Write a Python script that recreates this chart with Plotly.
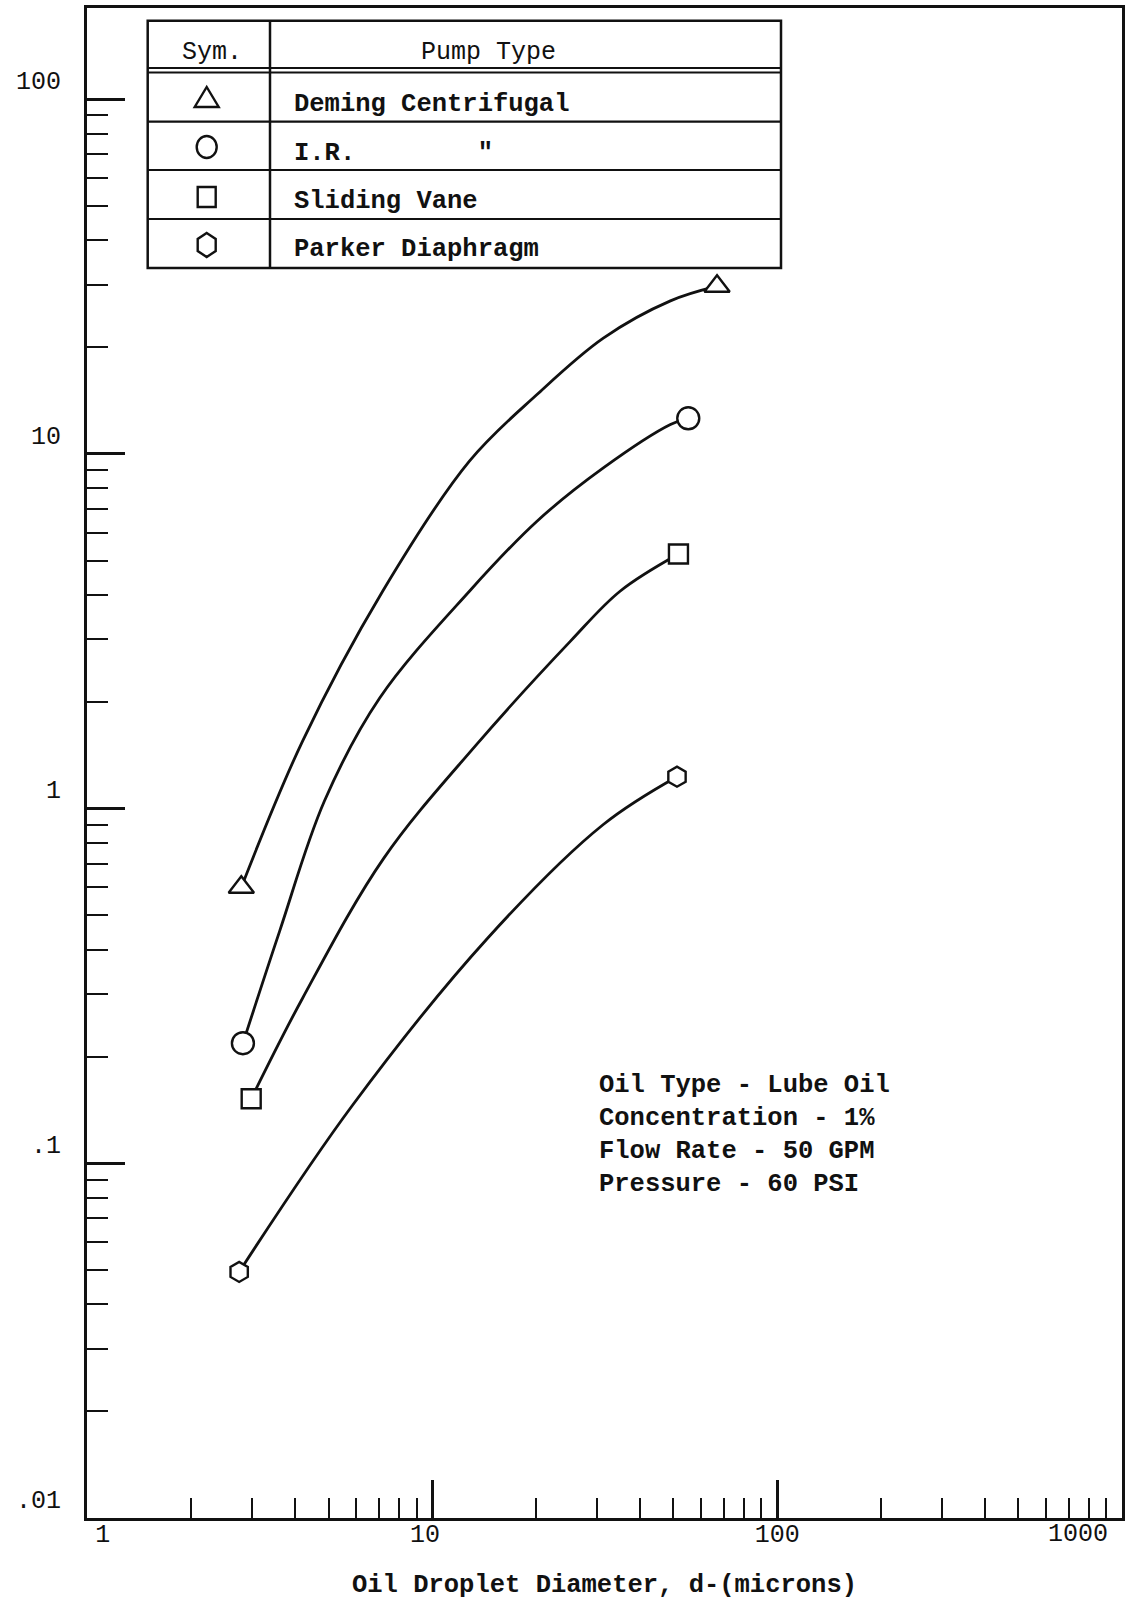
import math
import plotly.graph_objects as go

# ---- data ----
series_names = ["Deming Centrifugal", "I.R.", "Sliding Vane", "Parker Diaphragm"]

deming_x = [2.79, 4.20, 7.17, 12.8, 20.1, 31.3, 49.0, 66.9]
deming_y = [0.60, 1.55, 4.10, 9.54, 14.7, 21.2, 27.0, 29.7]

ir_x = [2.82, 3.60, 4.86, 7.03, 12.8, 20.1, 31.3, 49.0, 55.2]
ir_y = [0.218, 0.450, 1.05, 2.05, 4.10, 6.46, 9.13, 12.1, 12.6]

sliding_x = [2.98, 4.20, 7.22, 13.3, 25.1, 35.0, 51.7]
sliding_y = [0.152, 0.292, 0.724, 1.50, 2.96, 4.10, 5.22]

parker_x = [2.75, 5.87, 14.45, 31.3, 51.2]
parker_y = [0.0494, 0.146, 0.431, 0.902, 1.23]

x_tick_vals = [1, 10, 100, 1000]
x_tick_text = ["1", "10", "100", "1000"]
y_tick_vals = [0.01, 0.1, 1, 10, 100]
y_tick_text = [".01", ".1", "1", "10", "100"]

info_lines = ["Oil Type - Lube Oil", "Concentration - 1%", "Flow Rate - 50 GPM", "Pressure - 60 PSI"]
x_title = "Oil Droplet Diameter, d-(microns)"

# ---- styling ----
W, H = 1138, 1600
PL, PR, PT, PB = 87, 1122, 8, 1518
MONO = "Liberation Mono, Courier New, monospace"
INK = "#111111"
NB = "\u00a0"

def pxp(x):
    return (x - PL) / (PR - PL)

def pyp(y):
    return (PB - y) / (PB - PT)

fig = go.Figure()

series = [
    (deming_x, deming_y, "triangle-up", 22),
    (ir_x, ir_y, "circle", 22),
    (sliding_x, sliding_y, "square", 19),
    (parker_x, parker_y, "hexagon", 20),
]

for (xs, ys, sym, size), name in zip(series, series_names):
    fig.add_trace(go.Scatter(
        x=xs, y=ys, mode="lines", name=name, showlegend=False,
        line=dict(color=INK, width=2.8, shape="spline", smoothing=1.0),
        hoverinfo="skip",
    ))
for (xs, ys, sym, size), name in zip(series, series_names):
    fig.add_trace(go.Scatter(
        x=[xs[0], xs[-1]], y=[ys[0], ys[-1]], mode="markers", name=name,
        showlegend=False,
        marker=dict(symbol=sym, size=size, color="white",
                    line=dict(color=INK, width=2.4)),
    ))

# x tick labels nudged like the original typewritten labels; the last one
# (at the right frame edge) is written as an annotation so it stays inside the page
x_text_shifted = [NB * 2 + x_tick_text[0], x_tick_text[1] + NB, x_tick_text[2], ""]

minor_x = [m * 10 ** e for e in range(0, 3) for m in range(2, 10)]
minor_y = [m * 10 ** e for e in range(-2, 2) for m in range(2, 10)]

fig.update_xaxes(
    type="log", range=[-0.002, 3.0],
    showline=True, linecolor=INK, linewidth=3, mirror=True,
    showgrid=False, zeroline=False,
    ticks="inside", ticklen=38, tickwidth=2.5, tickcolor=INK,
    tickmode="array", tickvals=x_tick_vals, ticktext=x_text_shifted,
    tickfont=dict(family=MONO, size=25, color=INK),
    ticklabelstandoff=-9,
    minor=dict(ticks="inside", ticklen=20, tickwidth=2.3, tickcolor=INK,
               tickmode="array", tickvals=minor_x, showgrid=False),
    title=dict(text=x_title, font=dict(family=MONO, size=25.5, color=INK, weight="bold"), standoff=27),
)
fig.update_yaxes(
    type="log", range=[-2.0, 2.257],
    showline=True, linecolor=INK, linewidth=3, mirror=True,
    showgrid=False, zeroline=False,
    ticks="inside", ticklen=38, tickwidth=2.5, tickcolor=INK,
    tickmode="array", tickvals=y_tick_vals, ticktext=y_tick_text,
    tickfont=dict(family=MONO, size=25, color=INK),
    ticklabelshift=-19, ticklabelstandoff=18, ticklabeloverflow="allow",
    minor=dict(ticks="inside", ticklen=21, tickwidth=2.3, tickcolor=INK,
               tickmode="array", tickvals=minor_y, showgrid=False),
)

# ---- legend table (Sym. / Pump Type) ----
shapes = []
tl, tr, tt, tb, tdiv = 147.7, 781, 20.7, 268, 270
line_style = dict(color=INK, width=2.5)
shapes.append(dict(type="rect", xref="paper", yref="paper",
                   x0=pxp(tl), x1=pxp(tr), y0=pyp(tb), y1=pyp(tt),
                   line=line_style, fillcolor="white", layer="above"))
shapes.append(dict(type="line", xref="paper", yref="paper",
                   x0=pxp(tdiv), x1=pxp(tdiv), y0=pyp(tb), y1=pyp(tt), line=line_style))
for yy in [68, 72.5, 121.7, 170, 219]:
    shapes.append(dict(type="line", xref="paper", yref="paper",
                       x0=pxp(tl), x1=pxp(tr), y0=pyp(yy), y1=pyp(yy),
                       line=dict(color=INK, width=2.2)))

sym_x = 206.7
row_sym_y = [98, 147, 197, 245]
sym_line = dict(color=INK, width=2.4)
shapes.append(dict(type="path", xref="paper", yref="paper", xsizemode="pixel", ysizemode="pixel",
                   xanchor=pxp(sym_x), yanchor=pyp(row_sym_y[0]),
                   path="M -12,-9 L 12,-9 L 0,11 Z", line=sym_line))
shapes.append(dict(type="circle", xref="paper", yref="paper", xsizemode="pixel", ysizemode="pixel",
                   xanchor=pxp(sym_x), yanchor=pyp(row_sym_y[1]),
                   x0=-10, x1=10, y0=-11, y1=11, line=sym_line))
shapes.append(dict(type="rect", xref="paper", yref="paper", xsizemode="pixel", ysizemode="pixel",
                   xanchor=pxp(sym_x), yanchor=pyp(row_sym_y[2]),
                   x0=-9, x1=9, y0=-10, y1=10, line=sym_line))
shapes.append(dict(type="path", xref="paper", yref="paper", xsizemode="pixel", ysizemode="pixel",
                   xanchor=pxp(sym_x), yanchor=pyp(row_sym_y[3]),
                   path="M 0,12 L 9,6 L 9,-6 L 0,-12 L -9,-6 L -9,6 Z", line=sym_line))

annotations = []
annotations.append(dict(text="Sym.", x=pxp(212), y=pyp(52), xref="paper", yref="paper",
                        xanchor="center", yanchor="middle", showarrow=False,
                        font=dict(family=MONO, size=25, color=INK)))
annotations.append(dict(text="Pump Type", x=pxp(488), y=pyp(52), xref="paper", yref="paper",
                        xanchor="center", yanchor="middle", showarrow=False,
                        font=dict(family=MONO, size=25, color=INK)))
row_text_y = [104, 153, 202, 250]
row_texts = [series_names[0], series_names[1] + NB * 8 + '"', series_names[2], series_names[3]]
for t, yy in zip(row_texts, row_text_y):
    annotations.append(dict(text=t, x=pxp(292), y=pyp(yy), xref="paper", yref="paper",
                            xanchor="left", yanchor="middle", showarrow=False,
                            font=dict(family=MONO, size=25.5, color=INK, weight="bold")))

# last x tick label ("1000"), placed just left of its tick at the frame edge
annotations.append(dict(text=x_tick_text[3], x=math.log10(x_tick_vals[3]), y=pyp(1534),
                        xref="x", yref="paper", xanchor="center", yanchor="middle",
                        xshift=-44, showarrow=False,
                        font=dict(family=MONO, size=25, color=INK)))

# ---- conditions note ----
annotations.append(dict(text="<br>".join(info_lines), x=pxp(597), y=pyp(1135),
                        xref="paper", yref="paper", xanchor="left", yanchor="middle",
                        align="left", showarrow=False,
                        font=dict(family=MONO, size=25.5, color=INK, weight="bold")))

fig.update_layout(
    width=W, height=H,
    margin=dict(l=PL, r=W - PR, t=PT, b=H - PB, autoexpand=False),
    paper_bgcolor="white", plot_bgcolor="white",
    showlegend=False,
    shapes=shapes, annotations=annotations,
)

fig.write_html(
    "out.html",
    config={"displayModeBar": False},
    post_script="document.body.style.margin='0px';document.documentElement.style.overflow='hidden';document.body.style.overflow='hidden';",
)
